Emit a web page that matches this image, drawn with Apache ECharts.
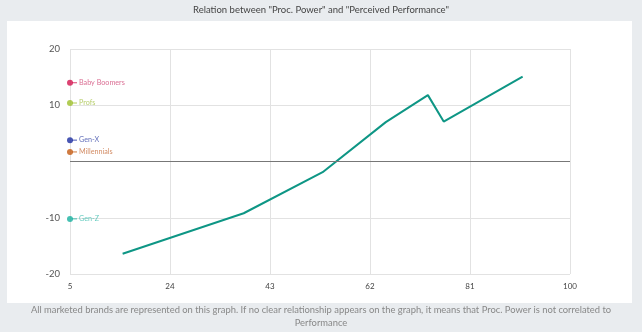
<!DOCTYPE html>
<html><head><meta charset="utf-8">
<script src="https://cdn.jsdelivr.net/npm/echarts@6/dist/echarts.min.js"></script>
<style>html,body{margin:0;padding:0;background:#e9ecef;}#c{width:642px;height:332px;}</style>
</head><body><div id="c"></div>
<script>
const titleText = 'Relation between "Proc. Power" and "Perceived Performance"';
const footerLine1 = 'All marketed brands are represented on this graph. If no clear relationship appears on the graph, it means that Proc. Power is not correlated to';
const footerLine2 = 'Performance';
const xTicks = [5, 24, 43, 62, 81, 100];
const yTicks = [-20, -10, 0, 10, 20];
const procPower = [15, 38, 53, 65, 73, 76, 91];
const perfValues = [-16.4, -9.2, -1.9, 7.0, 11.8, 7.1, 15.1];
const segNames = ['Baby Boomers', 'Profs', 'Gen-X', 'Millennials', 'Gen-Z'];
const segValues = [14.0, 10.4, 3.8, 1.7, -10.2];
const segColors = ['#d3134f', '#9dbf2a', '#1a2ca0', '#c45a12', '#17b09f'];
const segTextColors = ['#d14a78', '#a6c34a', '#3a4aa8', '#c87040', '#3fbfb0'];
const FONT = 'Lato';

const chart = echarts.init(document.getElementById('c'));
const segSeries = segNames.map((n, i) => ({
  type: 'scatter',
  name: n,
  data: [[xTicks[0], segValues[i]]],
  symbol: 'circle',
  symbolSize: 6,
  itemStyle: { color: segColors[i] },
  z: 5,
  label: {
    show: true, position: 'right', distance: -1,
    formatter: '{l|}{t|' + n + '}',
    rich: {
      l: { width: 5, height: 1, backgroundColor: segColors[i] },
      t: { color: segTextColors[i], fontSize: 7.2, padding: [0, 0, 0, 2], fontFamily: FONT }
    }
  }
}));
chart.setOption({
  backgroundColor: '#e9ecef',
  animation: false,
  title: { text: titleText, left: 'center', top: 0, textStyle: { fontSize: 9.5, fontWeight: 'normal', color: '#444', fontFamily: FONT } },
  graphic: [
    { type: 'rect', shape: { x: 7, y: 21, width: 625, height: 282 }, style: { fill: '#ffffff' }, z: -10, silent: true },
    { type: 'text', x: 321, y: 305, style: { text: footerLine1, fill: '#888', fontSize: 9.4, fontFamily: FONT, align: 'center' }, z: 10 },
    { type: 'text', x: 321, y: 318, style: { text: footerLine2, fill: '#888', fontSize: 9.4, fontFamily: FONT, align: 'center' }, z: 10 }
  ],
  grid: { left: 70, right: 72, top: 49, bottom: 58 },
  xAxis: {
    type: 'value', min: xTicks[0], max: xTicks[xTicks.length - 1], interval: xTicks[1] - xTicks[0],
    axisLine: { show: false }, axisTick: { show: false },
    axisLabel: { fontSize: 8, color: '#444', margin: 8, fontFamily: FONT },
    splitLine: { show: true, lineStyle: { color: '#e2e2e2', width: 1 } }
  },
  yAxis: {
    type: 'value', min: yTicks[0], max: yTicks[yTicks.length - 1], interval: yTicks[1] - yTicks[0],
    axisLine: { show: false }, axisTick: { show: false },
    axisLabel: { fontSize: 9.5, color: '#555', margin: 10, fontFamily: FONT, formatter: v => v === 0 ? '' : String(v) },
    splitLine: { show: true, lineStyle: { color: '#e2e2e2', width: 1 } }
  },
  series: [
    {
      type: 'line', data: procPower.map((x, i) => [x, perfValues[i]]),
      symbol: 'none', lineStyle: { color: '#0e9685', width: 2 }, z: 3,
      markLine: { silent: true, symbol: 'none', label: { show: false }, lineStyle: { color: '#777', width: 1, type: 'solid' }, data: [{ yAxis: 0 }] }
    },
    ...segSeries
  ]
});
</script></body></html>
